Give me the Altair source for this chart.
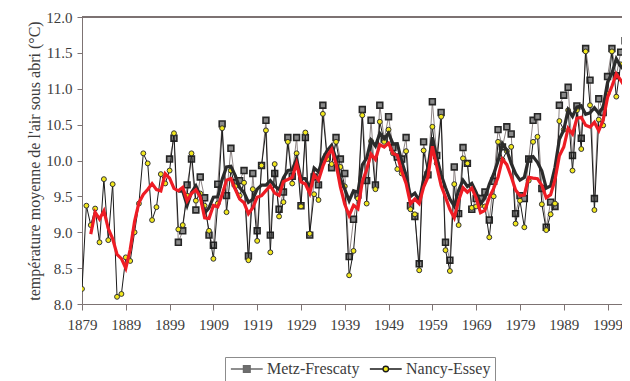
import altair as alt
import pandas as pd

# ---------------- data ----------------
stations = ["Metz-Frescaty", "Nancy-Essey"]

years_nancy = list(range(1879, 2005))
nancy = [
    8.21, 9.37, 9.10, 9.33, 8.86, 9.74, 8.89, 9.67, 8.10, 8.14,   # 1879-1888
    8.65, 8.60, 9.00, 9.40, 10.10, 9.96, 9.17, 9.35, 9.81, 9.68,  # 1889-1898
    9.86, 10.38, 9.04, 9.10, 9.51, 10.10, 9.44, 9.54, 9.37, 9.02, # 1899-1908
    8.63, 9.40, 10.45, 9.28, 9.86, 9.64, 9.51, 9.69, 8.61, 9.60,  # 1909-1918
    8.88, 9.93, 10.42, 8.72, 9.95, 9.22, 9.42, 10.26, 9.68, 10.10,# 1919-1928
    9.36, 10.39, 8.98, 9.53, 9.45, 10.65, 10.02, 9.95, 10.26, 9.91,# 1929-1938
    9.64, 8.40, 8.74, 9.47, 10.63, 9.40, 10.27, 9.60, 10.54, 10.26,# 1939-1948
    10.43, 10.10, 9.88, 9.82, 10.13, 9.32, 9.25, 8.47, 10.14, 9.81,# 1949-1958
    10.47, 9.96, 10.61, 8.75, 8.46, 9.67, 9.10, 10.03, 9.96, 9.34, # 1959-1968
    9.36, 9.38, 9.36, 8.93, 9.50, 10.26, 10.01, 10.13, 10.19, 9.12,# 1969-1978
    9.44, 9.07, 9.72, 10.26, 10.33, 9.39, 9.03, 9.25, 9.40, 10.55, # 1979-1988
    10.43, 10.70, 9.86, 10.70, 10.16, 11.52, 10.77, 9.31, 10.57, 10.49,# 1989-1998
    10.93, 11.52, 10.89, 11.34, 11.35, 10.50,                      # 1999-2004
]

years_metz = list(range(1899, 2005))
metz = [
    10.02, 10.31, 8.86, 9.02, 9.66, 10.02, 9.31, 9.77, 9.48, 8.96, # 1899-1908
    8.82, 9.67, 10.51, 9.51, 10.17, 9.69, 9.72, 9.86, 8.67, 9.82,  # 1909-1918
    9.02, 9.93, 10.56, 8.96, 9.82, 9.32, 9.56, 10.32, 9.78, 10.32, # 1919-1928
    9.37, 10.32, 8.96, 9.77, 9.66, 10.77, 10.05, 9.90, 10.32, 10.02,# 1929-1938
    9.82, 8.66, 9.18, 9.52, 10.71, 9.72, 10.56, 9.66, 10.77, 10.30,# 1939-1948
    10.61, 10.18, 10.05, 10.02, 10.32, 9.37, 9.22, 8.56, 10.26, 9.80,# 1949-1958
    10.82, 10.07, 10.67, 8.86, 8.61, 9.91, 9.26, 10.18, 9.96, 9.32,# 1959-1968
    9.47, 9.47, 9.56, 9.17, 9.71, 10.43, 10.19, 10.47, 10.37, 9.26,# 1969-1978
    9.51, 9.47, 10.02, 10.56, 10.61, 9.61, 9.07, 9.42, 9.36, 10.77,# 1979-1988
    10.91, 11.02, 10.07, 10.76, 10.31, 11.56, 11.12, 9.47, 10.86, 10.67,# 1989-1998
    11.17, 11.56, 11.18, 11.51, 11.67, 10.64,                      # 1999-2004
]

x_ticks = list(range(1879, 2000, 10))
y_ticks = [8.0, 8.5, 9.0, 9.5, 10.0, 10.5, 11.0, 11.5, 12.0]
y_title = "température moyenne de l'air sous abri (°C)"

df = pd.concat([
    pd.DataFrame({"year": years_metz, "temp": metz, "station": stations[0]}),
    pd.DataFrame({"year": years_nancy, "temp": nancy, "station": stations[1]}),
], ignore_index=True)

FONT = "Liberation Serif"
TXT = "#3c3c3c"
AX = "#7d7373"

# the original plot runs past the right edge of the picture: the visible part ends near 2002.3
xscale = alt.Scale(domain=[1879, 2002.3], nice=False, zero=False)
yscale = alt.Scale(domain=[8, 12], nice=False, zero=False)

x_axis = alt.Axis(values=x_ticks, format="d", title=None, grid=False,
                  tickSize=6, labelPadding=7, labelFontSize=15,
                  labelFont=FONT, labelColor=TXT, domainColor=AX,
                  tickColor=AX, labelFlush=False)
y_axis = alt.Axis(values=y_ticks, format=".1f", title=y_title, grid=False,
                  tickSize=5, labelPadding=5, labelFontSize=15,
                  labelFont=FONT, labelColor=TXT, domainColor=AX,
                  tickColor=AX, titleFont=FONT, titleFontSize=16,
                  titleFontWeight="normal", titleColor=TXT,
                  titlePadding=3)

x_enc = alt.X("year:Q", scale=xscale, axis=x_axis)
y_enc = alt.Y("temp:Q", scale=yscale, axis=y_axis)

base = alt.Chart(df).encode(x=x_enc, y=y_enc)


def only(st):
    return base.transform_filter(alt.datum.station == st)


metz_line = only(stations[0]).mark_line(color="#8e8585", strokeWidth=1, clip=True)
metz_pts = only(stations[0]).mark_point(shape="square", filled=True, size=34,
                                        fill="#8a8a8a", stroke="#262626",
                                        strokeWidth=1.6, opacity=1, clip=True)
nancy_line = only(stations[1]).mark_line(color="#1a1a1a", strokeWidth=1, clip=True)
nancy_pts = only(stations[1]).mark_point(shape="circle", filled=True, size=24,
                                         fill="#f2e81c", stroke="#333333",
                                         strokeWidth=1, opacity=1, clip=True)


def moving_avg(st, start, color):
    return (
        only(st)
        .transform_window(ma="mean(temp)", frame=[-2, 2], sort=[{"field": "year"}])
        .transform_filter(alt.datum.year >= start)
        .mark_line(color=color, strokeWidth=3.2, clip=True)
        .encode(y=alt.Y("ma:Q", scale=yscale, axis=y_axis))
    )


metz_ma = moving_avg(stations[0], years_metz[0] + 2, "#2b2b2b")
nancy_ma = moving_avg(stations[1], years_nancy[0] + 2, "#ee1c24")

# top frame line of the plot area
top_rule = alt.Chart(df).mark_rule(color=AX, strokeWidth=1).encode(
    y=alt.Y(datum=12, scale=yscale, axis=y_axis)
)

# legend symbols: a short line with the marker in the middle (shifted right of the nominal box)
metz_sym = "M-1,0H1.05M2.15,0H4.2M1.05,-0.55H2.15V0.55H1.05Z"
nancy_sym = ("M-1,0H1.15M2.05,0H4.2M1.15,0A0.45,0.45,0,1,0,2.05,0"
             "A0.45,0.45,0,1,0,1.15,0Z")

leg = alt.Legend(orient="none", legendX=143, legendY=340, direction="horizontal",
                 title=None, labelFont=FONT, labelFontSize=16, labelColor=TXT,
                 symbolSize=150, symbolOpacity=1, symbolStrokeWidth=1.3,
                 strokeColor="#8c8c8c", fillColor="white", padding=4,
                 symbolOffset=0, labelOffset=22, columnPadding=7,
                 gridAlign="each")

legend_layer = alt.Chart(df).mark_point(opacity=0, filled=True, clip=True).encode(
    x=x_enc,
    y=y_enc,
    shape=alt.Shape("station:N", scale=alt.Scale(domain=stations, range=[metz_sym, nancy_sym]), legend=leg),
    fill=alt.Fill("station:N", scale=alt.Scale(domain=stations, range=["#6e6e6e", "#f2e81c"]), legend=leg),
    stroke=alt.Stroke("station:N", scale=alt.Scale(domain=stations, range=["#6a6a6a", "#1a1a1a"]), legend=leg),
)

chart = (
    alt.layer(metz_line, metz_pts, nancy_line, nancy_pts, metz_ma, nancy_ma,
              top_rule, legend_layer)
    .properties(width=540, height=287,
                autosize=alt.AutoSizeParams(type="none"),
                padding={"left": 74, "top": 9, "right": 0, "bottom": 80})
    .configure_view(strokeWidth=0)
    .configure(background="white")
)

chart.save("out.html", embed_options={"renderer": "svg", "actions": False})
